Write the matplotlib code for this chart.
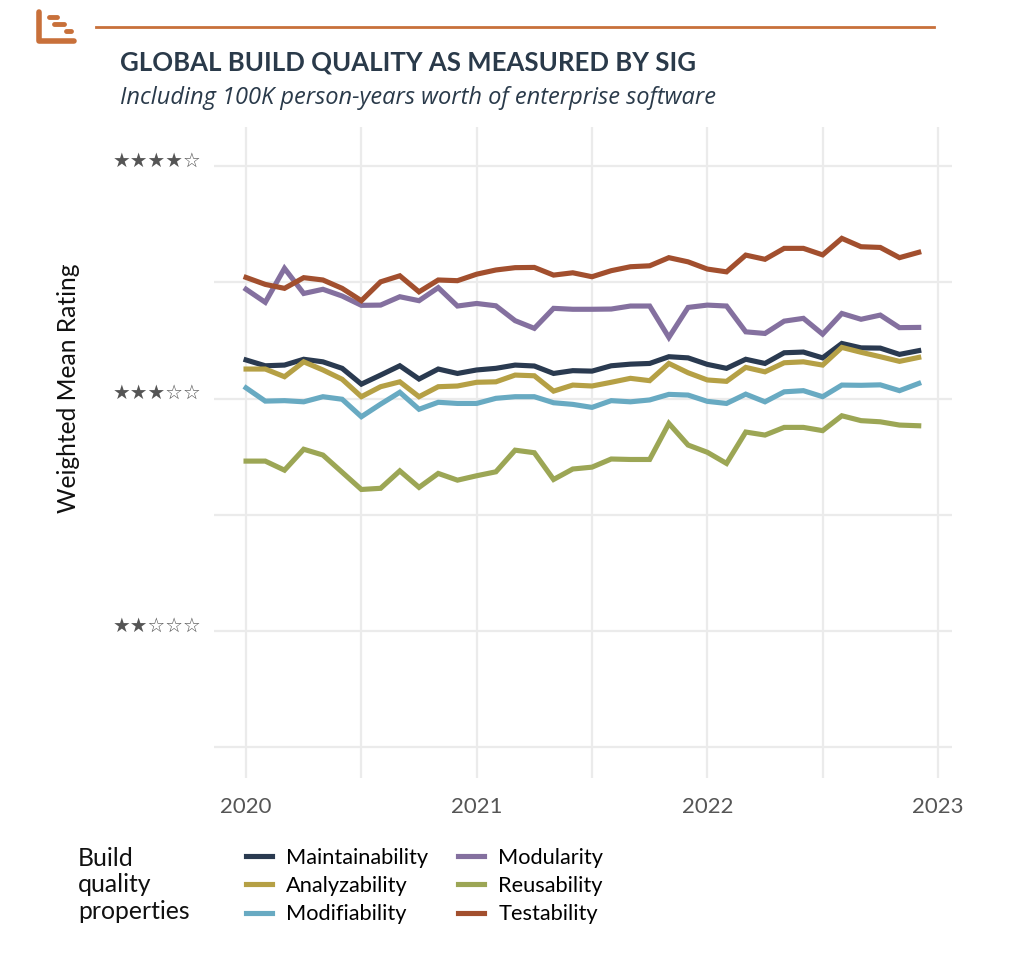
import numpy as np
import matplotlib.pyplot as plt
from matplotlib.lines import Line2D
from matplotlib.transforms import ScaledTranslation

plt.rcParams['font.family'] = ['Lato', 'DejaVu Sans']

# monthly ratings jan 2020 - dec 2022
maintainability = [3.166, 3.141, 3.144, 3.169, 3.158, 3.130, 3.062, 3.101, 3.141, 3.084, 3.127, 3.108,
                   3.123, 3.130, 3.144, 3.140, 3.108, 3.120, 3.118, 3.141, 3.148, 3.151, 3.180, 3.175,
                   3.147, 3.130, 3.169, 3.151, 3.197, 3.200, 3.175, 3.237, 3.218, 3.217, 3.190, 3.206]
analyzability = [3.127, 3.127, 3.094, 3.158, 3.123, 3.083, 3.008, 3.051, 3.072, 3.008, 3.051, 3.054,
                 3.070, 3.072, 3.101, 3.098, 3.032, 3.058, 3.054, 3.070, 3.087, 3.077, 3.151, 3.111,
                 3.080, 3.074, 3.134, 3.115, 3.154, 3.158, 3.144, 3.220, 3.199, 3.180, 3.160, 3.177]
modifiability = [3.046, 2.989, 2.991, 2.986, 3.008, 2.997, 2.922, 2.976, 3.027, 2.954, 2.984, 2.979,
                 2.979, 3.001, 3.008, 3.008, 2.982, 2.975, 2.962, 2.991, 2.986, 2.994, 3.018, 3.015,
                 2.988, 2.979, 3.019, 2.986, 3.029, 3.034, 3.008, 3.058, 3.057, 3.059, 3.034, 3.065]
modularity = [3.470, 3.414, 3.560, 3.452, 3.470, 3.441, 3.401, 3.402, 3.438, 3.421, 3.477, 3.398,
              3.409, 3.399, 3.335, 3.302, 3.388, 3.384, 3.384, 3.385, 3.398, 3.398, 3.263, 3.392,
              3.402, 3.398, 3.287, 3.280, 3.333, 3.345, 3.277, 3.366, 3.341, 3.359, 3.305, 3.306]
reusability = [2.731, 2.731, 2.692, 2.782, 2.757, 2.683, 2.609, 2.614, 2.689, 2.618, 2.678, 2.649,
               2.668, 2.685, 2.778, 2.767, 2.652, 2.697, 2.705, 2.740, 2.738, 2.738, 2.893, 2.800,
               2.769, 2.721, 2.856, 2.843, 2.876, 2.876, 2.862, 2.926, 2.905, 2.900, 2.886, 2.883]
testability = [3.521, 3.491, 3.474, 3.520, 3.510, 3.474, 3.421, 3.502, 3.528, 3.459, 3.510, 3.507,
               3.535, 3.553, 3.563, 3.564, 3.531, 3.541, 3.524, 3.550, 3.567, 3.571, 3.606, 3.588,
               3.557, 3.545, 3.617, 3.599, 3.646, 3.646, 3.618, 3.689, 3.653, 3.650, 3.606, 3.629]

nomes = ['Maintainability', 'Analyzability', 'Modifiability', 'Modularity', 'Reusability', 'Testability']
series = [maintainability, analyzability, modifiability, modularity, reusability, testability]
cores = ['#2a3a50', '#b5a045', '#68aac2', '#84709f', '#9ca655', '#a24f2e']

anos = [2020, 2021, 2022, 2023]
estrelas = [2, 3, 4]
estrelas_labels = ['★★☆☆☆', '★★★☆☆', '★★★★☆']

W, H = 1024, 975
fig = plt.figure(figsize=(W / 100, H / 100), dpi=100)
ax = fig.add_axes([214 / W, 1 - 778 / H, (952 - 214) / W, (778 - 127) / H])

meses = 2020 + np.arange(36) / 12
for valores, nome, cor in zip(series, nomes, cores):
    ax.plot(meses, valores, color=cor, lw=3.7, label=nome, zorder=3, solid_joinstyle='miter')

ax.set_xlim(2019.861, 2023.061)
ax.set_ylim(1.368, 4.168)
ax.set_xticks(anos)
ax.set_xticks([2020.5, 2021.5, 2022.5], minor=True)
ax.set_yticks(estrelas)
ax.set_yticklabels(estrelas_labels, color='#555555', fontsize=14.2, family=['DejaVu Sans'])
ax.set_yticks([1.5, 2.5, 3.5], minor=True)
ax.grid(True, which='both', color='#ebebeb', lw=1.6, zorder=0)
ax.tick_params(which='both', length=0)
ax.tick_params(axis='x', labelsize=16, labelcolor='#555555', pad=14)
ax.tick_params(axis='y', pad=9)
# as estrelas ficam um pouco acima da linha
for rotulo in ax.get_yticklabels():
    rotulo.set_transform(rotulo.get_transform() + ScaledTranslation(0, 7 / 100, fig.dpi_scale_trans))
for lado in ax.spines.values():
    lado.set_visible(False)

fig.text(68 / W, 1 - 388 / H, 'Weighted Mean Rating', rotation=90, fontsize=17.7,
         color='#111111', ha='center', va='center')

fig.text(120 / W, 1 - 62 / H, 'GLOBAL BUILD QUALITY AS MEASURED BY SIG', fontsize=18.5,
         fontweight='bold', color='#2a3a4a', va='center')
fig.text(120 / W, 1 - 98 / H, 'Including 100K person-years worth of enterprise software',
         fontsize=17, style='italic', color='#2a3a4a', va='center', family=['Open Sans', 'DejaVu Sans'])

# logo e linha do topo
laranja = '#c8703a'
fig.add_artist(Line2D([96 / W, 934 / W], [1 - 27 / H, 1 - 27 / H], color=laranja, lw=2))
fig.add_artist(Line2D([39 / W, 39 / W, 74 / W], [1 - 12 / H, 1 - 41 / H, 1 - 41 / H],
                      color=laranja, lw=4, solid_capstyle='round', solid_joinstyle='round'))
for x0, x1, y in [(49, 57, 17), (54, 64, 24), (66, 71, 31)]:
    fig.add_artist(Line2D([x0 / W, x1 / W], [1 - y / H, 1 - y / H], color=laranja, lw=3.5,
                          solid_capstyle='round'))

# legenda
fig.text(78 / W, 1 - 885 / H, 'Build\nquality\nproperties', fontsize=17.8, color='#111111',
         va='center', ha='left', linespacing=1.2)
handles, labels = ax.get_legend_handles_labels()
leg = fig.legend(handles, labels, ncol=2, frameon=False, fontsize=15.7, loc='center left',
                 bbox_to_anchor=(246 / W, 1 - 886 / H), handlelength=1.2, handletextpad=0.65,
                 columnspacing=1.36, labelspacing=0.38, borderaxespad=0, borderpad=0)

fig.savefig('out.png', dpi=100, facecolor='white')
